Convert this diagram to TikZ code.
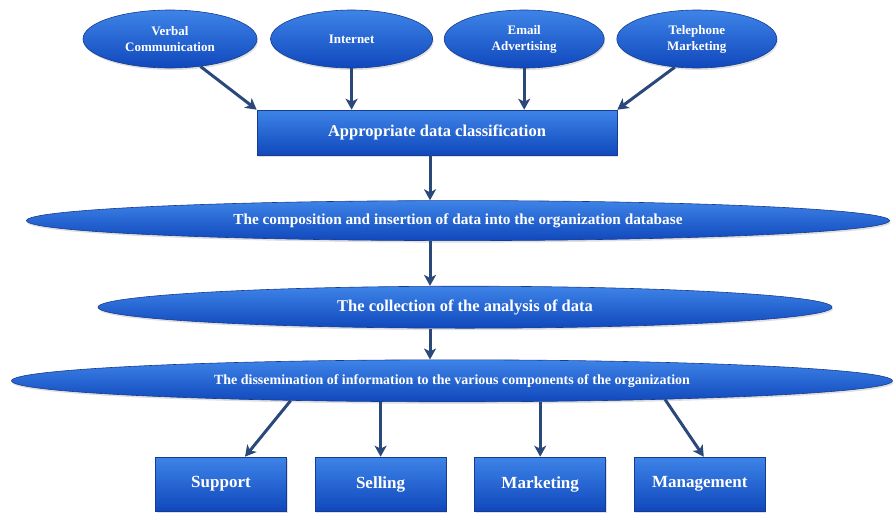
\documentclass[tikz,border=0pt]{standalone}
\usepackage{fontspec}
\setmainfont{Liberation Serif}
\usetikzlibrary{positioning,shapes.geometric,arrows.meta,shadows}

\definecolor{blueTop}{RGB}{62,132,232}
\definecolor{blueBot}{RGB}{16,72,188}
\definecolor{blueEdge}{RGB}{22,60,145}
\definecolor{arrowCol}{RGB}{42,72,122}

\begin{document}
\begin{tikzpicture}[x=1pt,y=-1pt,
    shadebase/.style={top color=blueTop,bottom color=blueBot,draw=blueEdge,
        line width=0.6pt,text=white,inner sep=0pt,
        drop shadow={opacity=0.25,shadow xshift=1pt,shadow yshift=-2pt}},
    topell/.style={shadebase,ellipse,minimum width=160pt,minimum height=58pt,
        align=center,font=\bfseries\fontsize{13}{16}\selectfont},
    longell/.style={shadebase,ellipse,minimum height=42pt,
        font=\bfseries\fontsize{15.3}{18}\selectfont},
    stepbox/.style={shadebase,rectangle,minimum width=131pt,minimum height=54pt,
        font=\bfseries\fontsize{17}{20}\selectfont},
    flow/.style={-{Stealth[length=11pt,width=12pt,inset=3pt]},line width=3pt,color=arrowCol}]
    \useasboundingbox (0,0) rectangle (893,517);
    %
    \node[topell,minimum width=174pt] (verbal)   at (170,39) {Verbal\\Communication};
    \node[topell,minimum width=162pt,right=13pt of verbal]   (internet) {Internet};
    \node[topell,right=11pt of internet] (email)    {Email\\Advertising};
    \node[topell,right=12pt of email]    (phone)    {Telephone\\Marketing};
    %
    \node[stepbox,minimum width=360pt,minimum height=45pt,
          font=\bfseries\fontsize{16.5}{20}\selectfont] (classify) at (437,132.5)
          {Appropriate data classification};
    \node[longell,minimum width=863pt,minimum height=40pt,below=45pt of classify,xshift=21pt]
          (compose) {The composition and insertion of data into the organization database};
    \node[longell,minimum width=734pt,below=45pt of compose,xshift=7pt,
          font=\bfseries\fontsize{16.5}{19}\selectfont]
          (collect) {The collection of the analysis of data};
    \node[longell,minimum width=881pt,below=31pt of collect,xshift=-13pt,
          font=\bfseries\fontsize{14}{16}\selectfont]
          (dissem) {The dissemination of information to the various components of the organization};
    %
    \node[stepbox]                         (support)   at (221,484) {Support};
    \node[stepbox,right=28pt of support]   (selling)   {Selling};
    \node[stepbox,right=28pt of selling]   (marketing) {Marketing};
    \node[stepbox,right=28pt of marketing] (mgmt)      {Management};
    %
    \coordinate (spine) at (430,0);
    \path[flow]
        (verbal.-42)                   edge (classify.north west)
        (internet.south)               edge (internet.south |- classify.north)
        (email.south)                  edge (email.south |- classify.north)
        (phone.-128)                   edge (classify.north east)
        (classify.south -| spine)      edge (compose.north -| spine)
        (compose.south -| spine)       edge (collect.north -| spine)
        (collect.south -| spine)       edge (dissem.north -| spine)
        (dissem.-173.4)                edge ([xshift=24pt]support.north)
        (dissem.south -| selling.north)   edge (selling.north)
        (dissem.south -| marketing.north) edge (marketing.north)
        (dissem.-5.1)                  edge ([xshift=4pt]mgmt.north)
    ; %-path-%
\end{tikzpicture}
\end{document}
